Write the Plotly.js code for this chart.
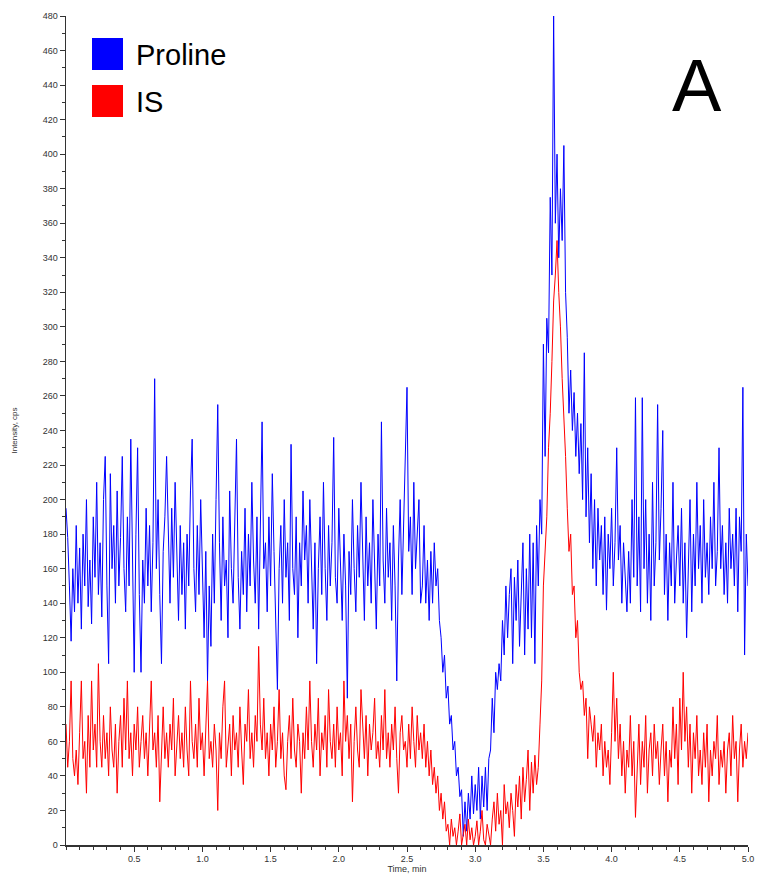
<!DOCTYPE html>
<html>
<head>
<meta charset="utf-8">
<script src="https://cdn.plot.ly/plotly-3.0.1.min.js"></script>
<style>
html,body{margin:0;padding:0;background:#fff;}
#chart{width:762px;height:881px;}
</style>
</head>
<body>
<div id="chart"></div>
<script>
// Sampling of the chromatogram (min)
const timeStart = 0;
const timeStep = 0.0125;

// Proline trace (cps), one value per sample
const prolineIntensity = [
195,178,150,118,160,135,185,140,172,125,
180,150,200,138,165,128,190,155,210,145,
175,132,200,225,150,105,215,160,185,140,
205,150,178,225,160,135,190,150,235,170,
100,180,230,145,100,165,140,195,150,185,
135,175,270,160,200,145,105,170,190,225,
175,140,195,155,210,160,130,185,145,175,
125,180,150,205,235,160,135,185,145,200,
160,120,170,95,150,115,180,140,200,255,
175,130,190,150,165,120,205,160,140,185,
235,155,125,170,145,195,135,180,150,210,
165,140,190,125,200,245,160,175,135,190,
150,215,170,130,90,160,185,140,200,155,
175,130,232,160,145,190,120,175,150,205,
165,185,140,200,155,125,175,105,160,190,
145,210,160,130,185,150,175,236,155,140,
195,165,130,180,150,85,170,145,200,160,
135,185,155,210,170,130,190,150,175,140,
200,160,125,180,150,245,165,140,195,155,
175,130,185,150,95,165,200,145,180,215,
265,170,190,145,210,160,180,200,140,150,
185,140,165,130,170,140,175,150,160,130,
120,100,110,85,92,70,75,55,60,40,
45,28,32,5,25,8,30,15,40,18,
35,20,45,15,40,22,45,20,50,55,
85,65,100,90,105,95,130,110,150,120,
145,160,105,155,130,165,115,145,175,110,
160,125,180,120,175,105,185,150,200,180,
290,225,305,285,375,330,480,360,400,340,
380,350,405,320,294,250,275,240,262,225,
250,215,244,200,285,190,230,175,215,160,
200,150,195,165,185,145,190,136,180,160,
195,150,175,230,165,185,140,175,150,135,
170,140,200,155,259,150,190,135,259,160,
200,140,180,130,210,150,175,255,165,195,
240,145,180,130,175,150,210,140,165,185,
150,195,140,175,120,160,200,135,180,150,
210,160,185,140,200,155,175,145,190,160,
210,150,170,230,160,185,145,175,140,195,
160,180,150,195,135,190,170,265,110,180,
150
];

// Internal standard trace (cps)
const isIntensity = [
70,45,60,95,50,40,55,35,65,95,
50,60,30,75,45,95,55,70,45,105,
60,45,75,50,65,40,80,55,45,70,
30,60,75,45,85,55,95,50,65,40,
70,55,80,45,60,75,50,65,40,70,
95,55,65,45,75,25,60,80,50,65,
45,70,55,85,40,60,75,50,65,45,
80,55,40,95,60,50,70,45,85,55,
65,40,75,95,50,60,45,70,55,20,
65,50,80,95,45,60,70,40,75,55,
65,45,80,55,35,70,60,90,50,65,
45,75,60,115,70,55,85,50,65,40,
70,55,80,45,60,90,50,65,40,32,
60,75,50,85,55,45,70,60,30,65,
50,80,55,95,60,45,70,55,85,40,
65,55,75,45,90,60,50,70,45,80,
55,65,40,95,60,75,50,70,25,60,
80,55,45,90,65,50,75,40,70,55,
65,85,50,60,45,75,55,90,50,65,
45,70,55,80,50,30,65,75,55,60,
45,70,50,80,60,45,75,55,65,50,
70,45,60,40,55,35,45,30,40,20,
30,15,25,8,12,0,15,5,10,0,
8,18,0,5,12,0,15,3,10,0,
5,14,0,8,20,3,0,12,5,0,
15,25,8,30,12,20,0,35,18,25,
10,30,20,5,35,22,40,15,45,25,
38,55,20,48,30,52,35,45,70,95,
150,170,190,230,250,280,315,330,350,320,
300,270,250,225,195,170,180,145,150,120,
130,100,90,95,75,85,50,80,70,60,
75,45,65,55,70,40,60,45,55,35,
65,100,60,85,50,70,40,60,30,55,
45,75,40,60,16,50,70,35,60,45,
75,30,55,65,40,70,50,60,35,55,
70,40,60,25,55,45,80,50,70,35,
85,55,100,60,80,45,70,30,65,50,
75,40,55,35,65,45,70,25,55,40,
60,50,75,35,55,45,60,30,55,65,
40,75,50,60,25,55,70,45,60,50,
65
];

const seriesNames = ["Proline", "IS"];
const seriesColors = ["#0000ff", "#ff0000"];
const xTickVals = [0.5,1.0,1.5,2.0,2.5,3.0,3.5,4.0,4.5,5.0];
const xTickText = ["0.5","1.0","1.5","2.0","2.5","3.0","3.5","4.0","4.5","5.0"];
const panelLabel = "A";

const FONT = '"Liberation Sans", Arial, sans-serif';

const traces = [
  {type:'scatter', mode:'lines', name:seriesNames[0], x0:timeStart, dx:timeStep,
   y:prolineIntensity, line:{color:seriesColors[0], width:1}, showlegend:false},
  {type:'scatter', mode:'lines', name:seriesNames[1], x0:timeStart, dx:timeStep,
   y:isIntensity, line:{color:seriesColors[1], width:1}, showlegend:false}
];

// plot area: left 66, right 748, top 16, bottom 845
const L=66, R=748, T=16, B=845, W=762, H=881;
const px = v => (v-L)/(R-L);
const py = v => (B-v)/(B-T);

const layout = {
  width:W, height:H,
  margin:{l:L, r:W-R, t:T, b:H-B, pad:0},
  paper_bgcolor:'#fff', plot_bgcolor:'#fff',
  showlegend:false,
  font:{family:FONT, color:'#333'},
  xaxis:{
    range:[0,5.0], showgrid:false, zeroline:false,
    showline:true, linecolor:'#333', linewidth:1.5,
    ticks:'outside', ticklen:5, tickcolor:'#333', tickwidth:1,
    tickvals:xTickVals, ticktext:xTickText,
    tickfont:{size:9, color:'#333', family:FONT},
    minor:{dtick:0.1, tick0:0, ticks:'outside', ticklen:3, tickcolor:'#333', showgrid:false},
    title:{text:'Time, min', font:{size:9, color:'#333', family:FONT}, standoff:1},
    automargin:false
  },
  yaxis:{
    range:[0,480], showgrid:false, zeroline:false,
    showline:true, linecolor:'#333', linewidth:1.5,
    ticks:'outside', ticklen:5, tickcolor:'#333', tickwidth:1,
    dtick:20, tick0:0,
    tickfont:{size:9, color:'#333', family:FONT},
    minor:{dtick:10, tick0:0, ticks:'outside', ticklen:3, tickcolor:'#333', showgrid:false},
    title:{text:'Intensity, cps', font:{size:8, color:'#333', family:FONT}, standoff:24},
    automargin:false
  },
  shapes:[
    {type:'rect', xref:'paper', yref:'paper', x0:px(92), x1:px(123), y0:py(70), y1:py(38),
     fillcolor:seriesColors[0], line:{width:0}},
    {type:'rect', xref:'paper', yref:'paper', x0:px(92), x1:px(123), y0:py(117), y1:py(85),
     fillcolor:seriesColors[1], line:{width:0}}
  ],
  annotations:[
    {xref:'paper', yref:'paper', x:px(134), y:py(55), xanchor:'left', yanchor:'middle',
     text:seriesNames[0], showarrow:false, font:{size:29, color:'#000', family:FONT}},
    {xref:'paper', yref:'paper', x:px(134), y:py(102), xanchor:'left', yanchor:'middle',
     text:seriesNames[1], showarrow:false, font:{size:29, color:'#000', family:FONT}},
    {xref:'paper', yref:'paper', x:px(697), y:py(85), xanchor:'center', yanchor:'middle',
     text:panelLabel, showarrow:false, font:{size:74, color:'#000', family:FONT}}
  ]
};

Plotly.newPlot('chart', traces, layout, {displayModeBar:false, staticPlot:true});
</script>
</body>
</html>
